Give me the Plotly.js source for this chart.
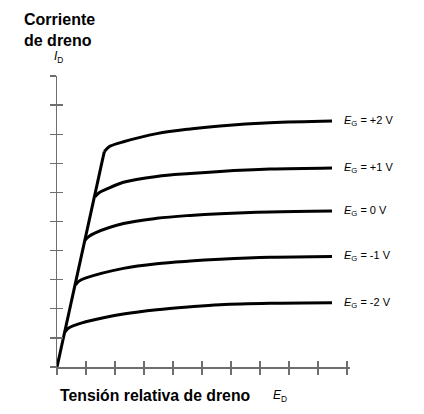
<!DOCTYPE html>
<html>
<head>
<meta charset="utf-8">
<script src="https://cdn.plot.ly/plotly-3.0.1.min.js"></script>
<style>
  html, body { margin: 0; padding: 0; background: #fff; }
  #chart { width: 424px; height: 414px; }
</style>
</head>
<body>
<div id="chart"></div>
<script>
/* Transistor output curves: drain current vs drain voltage for several gate voltages.
   Units are arbitrary (one tick = one unit). */

const GATE_LABELS = ['+2', '+1', '0', '-1', '-2'];

// ohmic region: straight line from origin to the top knee
const OHMIC_X = [0, 1.63];
const OHMIC_Y = [0, 7.40];

// one curve per gate voltage, each starting at its knee on the ohmic line
const CURVE_X = [
  [1.63, 1.75, 1.83, 2.29, 3.44, 4.59, 5.62, 7.34, 9.48],
  [1.31, 1.45, 1.70, 2.29, 3.44, 4.59, 5.62, 7.34, 9.48],
  [0.97, 1.08, 1.30, 2.29, 3.44, 4.59, 5.62, 7.34, 9.48],
  [0.64, 0.76, 1.00, 2.29, 3.44, 4.59, 5.62, 7.34, 9.48],
  [0.28, 0.40, 0.65, 1.14, 2.29, 3.44, 4.59, 5.62, 7.34, 9.48]
];
const CURVE_Y = [
  [7.40, 7.53, 7.59, 7.74, 8.02, 8.18, 8.28, 8.39, 8.45],
  [5.85, 5.99, 6.11, 6.35, 6.55, 6.65, 6.72, 6.80, 6.84],
  [4.36, 4.47, 4.60, 4.93, 5.11, 5.21, 5.27, 5.33, 5.36],
  [2.82, 2.95, 3.06, 3.39, 3.55, 3.64, 3.70, 3.77, 3.80],
  [1.21, 1.34, 1.45, 1.59, 1.82, 1.97, 2.07, 2.14, 2.19, 2.21]
];

const TICKS = [0, 1, 2, 3, 4, 5, 6, 7, 8, 9, 10];
const X_RANGE = [0, 10.1];
const Y_RANGE = [0, 10];

const FONT = 'Liberation Sans, Arial, Helvetica, sans-serif';
const INK = '#000';
const AXIS_GREY = '#6e6e6e';

const lineStyle = { color: INK, width: 3 };

const traces = [
  { x: OHMIC_X, y: OHMIC_Y, mode: 'lines', line: lineStyle,
    cliponaxis: false, hoverinfo: 'skip', showlegend: false }
].concat(CURVE_X.map((xs, i) => ({
  x: xs, y: CURVE_Y[i], mode: 'lines',
  line: Object.assign({ shape: 'spline', smoothing: 1 }, lineStyle),
  cliponaxis: false, hoverinfo: 'skip', showlegend: false
})));

// invisible trace so the overlay axes (inner half of the cross ticks) get drawn
traces.push({ x: X_RANGE, y: Y_RANGE, xaxis: 'x2', yaxis: 'y2', mode: 'markers',
  marker: { opacity: 0 }, hoverinfo: 'skip', showlegend: false });

const axisBase = {
  tickmode: 'array', tickvals: TICKS, showticklabels: false,
  showgrid: false, zeroline: false, ticklen: 6, tickwidth: 1.3, tickcolor: AXIS_GREY,
  fixedrange: true
};

const labels = GATE_LABELS.map((g, i) => ({
  x: 9.82, y: CURVE_Y[i][CURVE_Y[i].length - 1], xref: 'x', yref: 'y',
  text: '<i>E</i><sub>G</sub> = ' + g + ' V',
  xanchor: 'left', yanchor: 'middle', showarrow: false,
  font: { family: FONT, size: 11, color: INK }
}));

const layout = {
  width: 424, height: 414,
  margin: { l: 57, r: 74, t: 76, b: 47 },
  paper_bgcolor: '#fff', plot_bgcolor: '#fff',
  font: { family: FONT, color: INK },
  xaxis: Object.assign({}, axisBase, { range: X_RANGE, ticks: 'outside',
    showline: true, linecolor: AXIS_GREY, linewidth: 1.5 }),
  yaxis: Object.assign({}, axisBase, { range: Y_RANGE, ticks: 'outside',
    showline: true, linecolor: AXIS_GREY, linewidth: 1.5 }),
  xaxis2: Object.assign({}, axisBase, { range: X_RANGE, ticks: 'inside',
    overlaying: 'x', anchor: 'y', showline: false }),
  yaxis2: Object.assign({}, axisBase, { range: Y_RANGE, ticks: 'inside',
    overlaying: 'y', anchor: 'x', showline: false }),
  annotations: labels.concat([
    { xref: 'paper', yref: 'paper', x: -0.12, y: 1.23, xanchor: 'left', yanchor: 'top',
      align: 'left', showarrow: false,
      text: '<b>Corriente<br>de dreno</b>',
      font: { family: FONT, size: 16, color: INK } },
    { xref: 'paper', yref: 'paper', x: -0.018, y: 1.03, xanchor: 'left', yanchor: 'bottom',
      showarrow: false, text: '<i>I</i><sub>D</sub>',
      font: { family: FONT, size: 12, color: INK } },
    { xref: 'paper', yref: 'paper', x: 0.005, y: -0.062, xanchor: 'left', yanchor: 'top',
      showarrow: false, text: '<b>Tensión relativa de dreno</b>',
      font: { family: FONT, size: 15.8, color: INK } },
    { xref: 'paper', yref: 'paper', x: 0.732, y: -0.065, xanchor: 'left', yanchor: 'top',
      showarrow: false, text: '<i>E</i><sub>D</sub>',
      font: { family: FONT, size: 12, color: INK } }
  ])
};

Plotly.newPlot('chart', traces, layout, { displayModeBar: false, staticPlot: true });
</script>
</body>
</html>
